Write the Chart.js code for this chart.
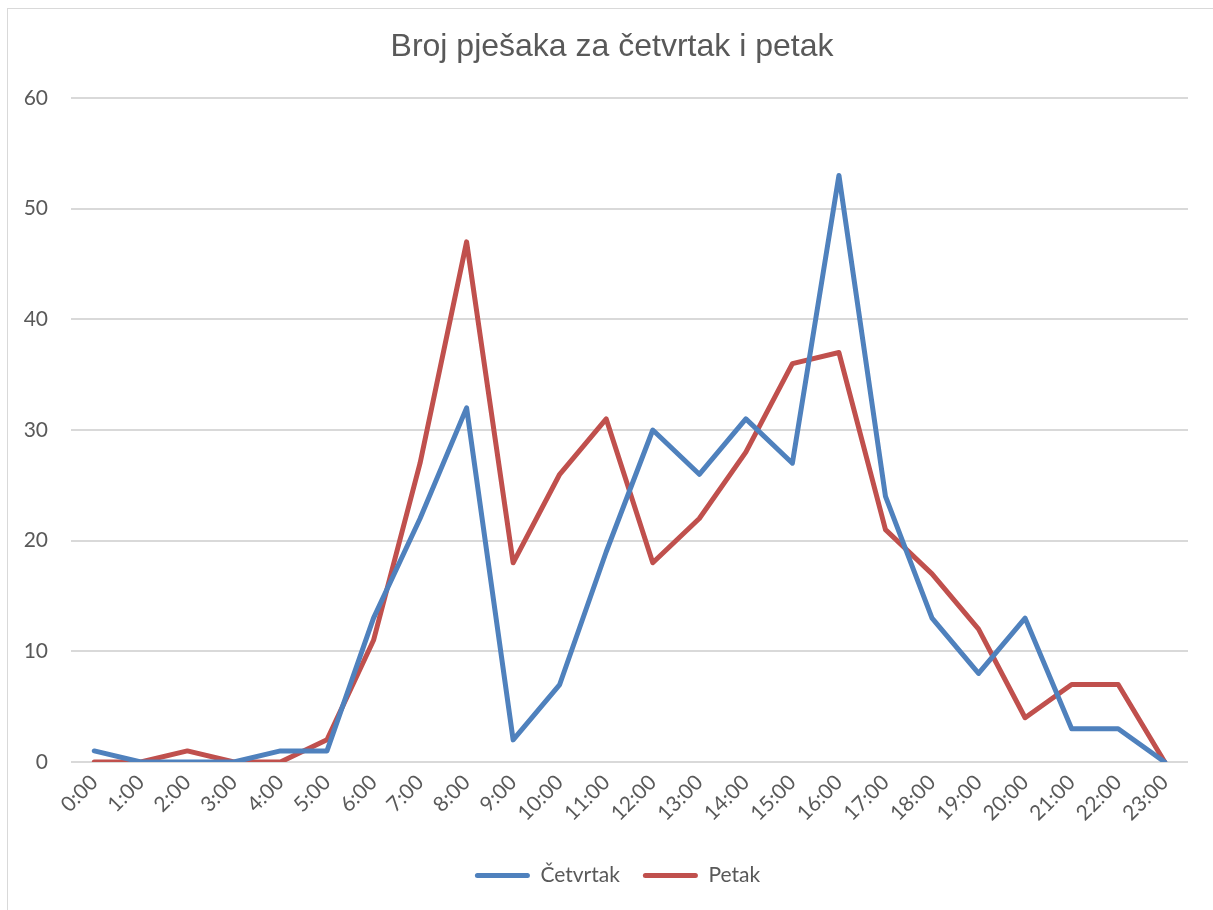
<!DOCTYPE html>
<html>
<head>
<meta charset="utf-8">
<script src="https://cdn.jsdelivr.net/npm/chart.js@4.4.1/dist/chart.umd.min.js"></script>
<style>
  html, body { margin: 0; padding: 0; background: #fff; overflow: hidden; }
  #wrap { position: relative; width: 1213px; height: 910px; }
  #frame { position: absolute; left: 7px; top: 8px; width: 1400px; height: 1100px; border: 1px solid #d9d9d9; pointer-events: none; }
  canvas { display: block; }
</style>
</head>
<body>
<div id="wrap">
  <canvas id="c" width="1213" height="910"></canvas>
  <div id="frame"></div>
</div>
<script>
const chartTitle = "Broj pješaka za četvrtak i petak";
const hours = ["0:00","1:00","2:00","3:00","4:00","5:00","6:00","7:00","8:00","9:00","10:00","11:00","12:00","13:00","14:00","15:00","16:00","17:00","18:00","19:00","20:00","21:00","22:00","23:00"];
const seriesNames = ["Četvrtak", "Petak"];
const cetvrtak = [1,0,0,0,1,1,13,22,32,2,7,19,30,26,31,27,53,24,13,8,13,3,3,0];
const petak    = [0,0,1,0,0,2,11,27,47,18,26,31,18,22,28,36,37,21,17,12,4,7,7,0];
const yMin = 0, yMax = 60, yStep = 10;

const textColor = "#595959";
const gridColor = "#d9d9d9";
const blue = "#4f81bd";
const red = "#c0504d";

const shiftBoxes = {
  id: "shiftBoxes",
  afterLayout(chart) {
    if (chart.legend) { chart.legend.left += 23.5; chart.legend.right += 23.5; }
    if (chart.titleBlock) { chart.titleBlock.left += 18; chart.titleBlock.right += 18; }
  }
};

new Chart(document.getElementById("c"), {
  type: "line",
  data: {
    labels: hours,
    datasets: [
      { label: seriesNames[0], data: cetvrtak, borderColor: blue, backgroundColor: blue, borderWidth: 5, pointRadius: 0, tension: 0, borderJoinStyle: "round", borderCapStyle: "round" },
      { label: seriesNames[1], data: petak, borderColor: red, backgroundColor: red, borderWidth: 5, pointRadius: 0, tension: 0, borderJoinStyle: "round", borderCapStyle: "round" }
    ]
  },
  plugins: [shiftBoxes],
  options: {
    responsive: false,
    animation: false,
    layout: { padding: { left: 0, right: 25, top: 0, bottom: 14 } },
    plugins: {
      title: {
        display: true,
        text: chartTitle,
        color: textColor,
        font: { family: "'Liberation Sans', Arial, sans-serif", size: 32, weight: "normal" },
        padding: { top: 27.5, bottom: 32.1 }
      },
      legend: {
        display: true,
        position: "bottom",
        labels: {
          color: textColor,
          font: { family: "Lato, 'Open Sans', sans-serif", size: 21 },
          boxWidth: 55,
          boxHeight: 5,
          padding: 23,
          useBorderRadius: true,
          borderRadius: 2.5,
          generateLabels: (chart) => {
            const items = Chart.defaults.plugins.legend.labels.generateLabels(chart);
            items.forEach(it => { it.lineWidth = 0; });
            return items;
          }
        }
      },
      tooltip: { enabled: false }
    },
    scales: {
      x: {
        offset: true,
        grid: { display: false, drawTicks: false },
        border: { display: false },
        ticks: {
          color: textColor,
          font: { family: "Lato, 'Open Sans', sans-serif", size: 21 },
          maxRotation: 45,
          minRotation: 45,
          padding: 8,
          autoSkip: false
        },
        afterFit: (scale) => { scale.height = 910 - 762 - 54 - 14; }
      },
      y: {
        min: yMin,
        max: yMax,
        grid: { color: gridColor, lineWidth: 2, drawTicks: false },
        border: { display: false },
        ticks: {
          stepSize: yStep,
          color: textColor,
          font: { family: "Lato, 'Open Sans', sans-serif", size: 21 },
          padding: 23
        },
        afterFit: (scale) => { scale.width = 71; }
      }
    }
  }
});
</script>
</body>
</html>
